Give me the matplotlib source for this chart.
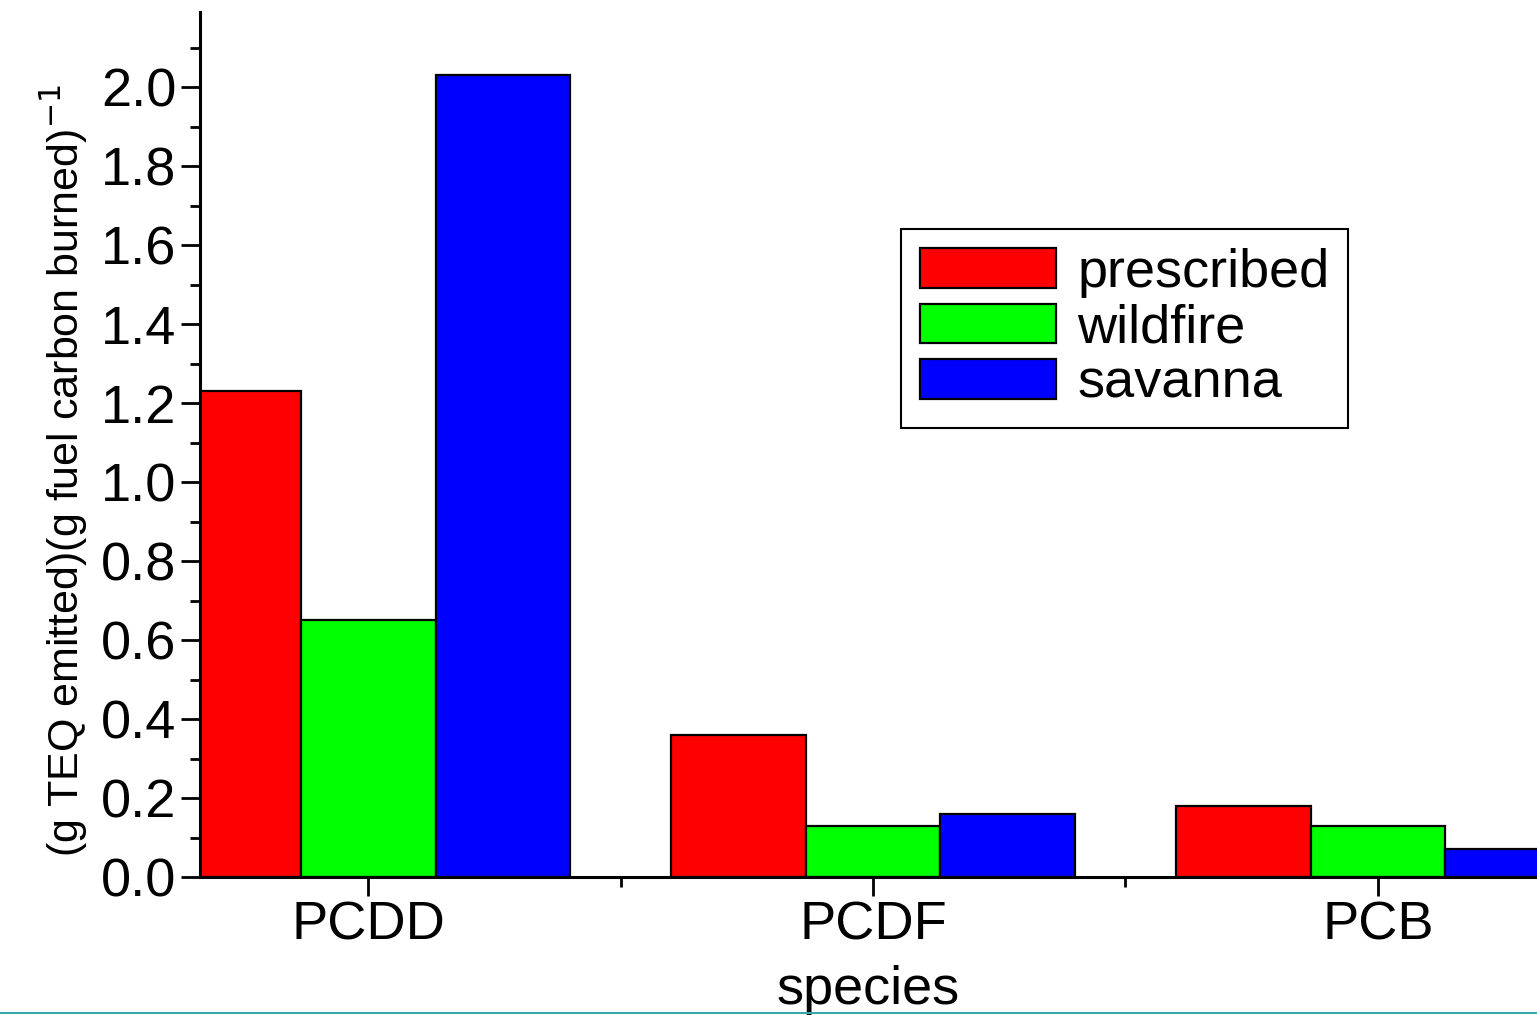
import matplotlib.pyplot as plt
from matplotlib.lines import Line2D
from matplotlib.ticker import MultipleLocator, FixedLocator
import numpy as np

# emission factors, (g TEQ emitted)(g fuel carbon burned)^-1
especies = ["PCDD", "PCDF", "PCB"]
prescribed = [1.23, 0.36, 0.18]
wildfire = [0.65, 0.13, 0.13]
savanna = [2.03, 0.16, 0.07]

series = [("prescribed", prescribed, "#ff0000"),
          ("wildfire", wildfire, "#00ff00"),
          ("savanna", savanna, "#0000ff")]

plt.rcParams["font.family"] = ["Liberation Sans", "DejaVu Sans"]

fig = plt.figure(figsize=(15.37, 10.18), dpi=100)
ax = fig.add_axes([0.1301, 0.1385, 0.8699, 0.8497])

x = np.arange(len(especies))
ancho = 0.267

for i, (nombre, valores, color) in enumerate(series):
    ax.bar(x + (i - 1) * ancho, valores, ancho, color=color,
           edgecolor="black", linewidth=1.6, label=nombre)

ax.set_xlim(-0.333, 2.315)
ax.set_ylim(0, 2.19)

ax.set_xticks(x)
ax.set_xticklabels(especies)
ax.xaxis.set_minor_locator(FixedLocator([0.5, 1.5]))
ax.yaxis.set_major_locator(MultipleLocator(0.2))
ax.yaxis.set_minor_locator(MultipleLocator(0.1))
ax.yaxis.set_major_formatter(lambda v, p: f"{v:.1f}")

for lado in ["top", "right"]:
    ax.spines[lado].set_visible(False)
for lado in ["left", "bottom"]:
    ax.spines[lado].set_linewidth(2.2)

ax.tick_params(axis="both", which="major", direction="out", length=14,
               width=2, labelsize=39, pad=3)
ax.tick_params(axis="both", which="minor", direction="out", length=7, width=2)

ax.set_xlabel("species", fontsize=39, labelpad=10)
ax.set_ylabel("(g TEQ emitted)(g fuel carbon burned)$^{-1}$", fontsize=31)
ax.yaxis.set_label_coords(-0.0825, 0.47)

leg = ax.legend(loc="upper left", bbox_to_anchor=(0.5687, 0.8015),
                bbox_transform=fig.transFigure, fontsize=39,
                handlelength=2.5, handleheight=0.75, labelspacing=0.1,
                handletextpad=0.4, borderpad=0.35, fancybox=False,
                framealpha=1, edgecolor="black")
leg.get_frame().set_linewidth(1.5)

# linea inferior de la pagina
fig.add_artist(Line2D([0, 1], [0.0045, 0.0045], transform=fig.transFigure,
                      color="#3aa8a8", linewidth=1.5))

plt.savefig("out.png", dpi=100)
